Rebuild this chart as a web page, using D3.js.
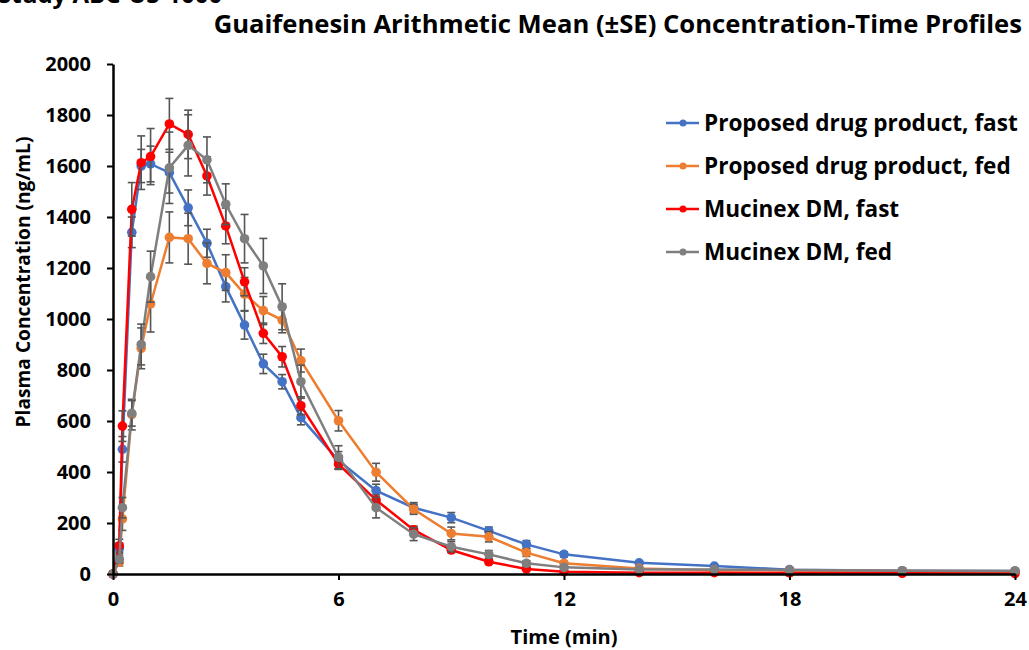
<!DOCTYPE html>
<html>
<head>
<meta charset="utf-8">
<script src="https://cdn.jsdelivr.net/npm/d3@7"></script>
<style>
  body { margin: 0; background: #fff; }
  svg text { font-family: "Open Sans", Lato, sans-serif; font-weight: bold; fill: #000; }
</style>
</head>
<body>
<svg id="chart" width="1029" height="650"></svg>
<script>
// data
var times = [0, 0.167, 0.25, 0.5, 0.75, 1, 1.5, 2, 2.5, 3, 3.5, 4, 4.5, 5, 6, 7, 8, 9, 10, 11, 12, 14, 16, 18, 21, 24];

var propFast = [0, 100, 489, 1340, 1600, 1608, 1574, 1436, 1297, 1127, 976, 824, 754, 613, 445, 327, 260, 221, 169, 116, 77, 44, 31, 17, 13, 12];
var propFed  = [0, 47, 216, 625, 885, 1059, 1320, 1315, 1218, 1182, 1098, 1033, 996, 837, 601, 399, 254, 159, 146, 84, 42, 22, 15, 14, 12, 11];
var mucFast  = [0, 111, 580, 1430, 1613, 1637, 1765, 1724, 1561, 1365, 1146, 944, 852, 660, 431, 290, 173, 94, 48, 20, 9, 5, 5, 4, 3, 2];
var mucFed   = [0, 58, 260, 630, 900, 1166, 1593, 1681, 1624, 1450, 1315, 1208, 1048, 754, 458, 260, 156, 107, 77, 42, 26, 18, 18, 16, 13, 12];

var propFastSE = [0, 20, 50, 60, 65, 70, 80, 70, 55, 60, 55, 38, 28, 28, 35, 25, 20, 20, 15, 15, 10, 6, 5, 4, 3, 3];
var propFedSE  = [0, 15, 45, 60, 80, 110, 100, 100, 80, 70, 65, 55, 50, 45, 40, 35, 20, 25, 20, 15, 8, 5, 4, 3, 3, 3];
var mucFastSE  = [0, 25, 60, 105, 105, 110, 100, 95, 75, 70, 55, 40, 40, 35, 20, 20, 15, 10, 8, 5, 3, 2, 2, 1, 1, 1];
var mucFedSE   = [0, 15, 40, 50, 80, 100, 140, 120, 90, 80, 95, 108, 90, 65, 45, 40, 25, 20, 15, 10, 8, 5, 4, 3, 3, 3];

var seriesNames = ["Proposed drug product, fast", "Proposed drug product, fed", "Mucinex DM, fast", "Mucinex DM, fed"];
var seriesColors = ["#4472C4", "#ED7D31", "#FF0000", "#7F7F7F"];
var xTicks = [0, 6, 12, 18, 24];
var yTicks = [0, 200, 400, 600, 800, 1000, 1200, 1400, 1600, 1800, 2000];

var series = [
  {name: seriesNames[0], color: seriesColors[0], values: propFast, se: propFastSE},
  {name: seriesNames[1], color: seriesColors[1], values: propFed, se: propFedSE},
  {name: seriesNames[2], color: seriesColors[2], values: mucFast, se: mucFastSE},
  {name: seriesNames[3], color: seriesColors[3], values: mucFed, se: mucFedSE}
];

var svg = d3.select("#chart");
var plotLeft = 113, plotRight = 1015, plotTop = 64, plotBottom = 574;

var x = d3.scaleLinear().domain([0, 24]).range([plotLeft, plotRight]);
var y = d3.scaleLinear().domain([0, 2000]).range([plotBottom, plotTop]);

// shrink/grow font so a text spans a given width
function fitWidth(sel, w) {
  var size = parseFloat(sel.style("font-size"));
  var len = sel.node().getComputedTextLength();
  var ns = size * w / len;
  sel.style("font-size", ns + "px");
  return ns;
}

// titles (the first one is cut off at the top edge, as in the source image)
svg.append("text")
  .attr("x", -2).attr("y", 3)
  .style("font-size", "24px")
  .text("Study ABC-US-1000");
var title = svg.append("text")
  .attr("x", 1022).attr("y", 33)
  .attr("text-anchor", "end")
  .style("font-size", "23px")
  .text("Guaifenesin Arithmetic Mean (\u00B1SE) Concentration-Time Profiles");
fitWidth(title, 809);

// series
var line = d3.line().x(function(d){ return x(d[0]); }).y(function(d){ return y(d[1]); });

series.forEach(function(s){
  var pts = times.map(function(t, i){ return [t, s.values[i], s.se[i]]; });
  var g = svg.append("g");
  g.append("path")
    .datum(pts)
    .attr("d", line)
    .attr("fill", "none")
    .attr("stroke", s.color)
    .attr("stroke-width", 2.5);

  //error bars
  var eb = g.selectAll(".eb").data(pts.filter(function(d){ return d[2] > 0; })).enter().append("g");
  eb.append("line")
    .attr("x1", function(d){ return x(d[0]); }).attr("x2", function(d){ return x(d[0]); })
    .attr("y1", function(d){ return y(d[1] - d[2]); }).attr("y2", function(d){ return y(d[1] + d[2]); })
    .attr("stroke", "#555").attr("stroke-width", 1.6);
  eb.append("line")
    .attr("x1", function(d){ return x(d[0]) - 4; }).attr("x2", function(d){ return x(d[0]) + 4; })
    .attr("y1", function(d){ return y(d[1] + d[2]); }).attr("y2", function(d){ return y(d[1] + d[2]); })
    .attr("stroke", "#555").attr("stroke-width", 1.6);
  eb.append("line")
    .attr("x1", function(d){ return x(d[0]) - 4; }).attr("x2", function(d){ return x(d[0]) + 4; })
    .attr("y1", function(d){ return y(d[1] - d[2]); }).attr("y2", function(d){ return y(d[1] - d[2]); })
    .attr("stroke", "#555").attr("stroke-width", 1.6);

  g.selectAll("circle").data(pts).enter().append("circle")
    .attr("cx", function(d){ return x(d[0]); })
    .attr("cy", function(d){ return y(d[1]); })
    .attr("r", 4.8)
    .attr("fill", s.color);
});

// axes
var yAxis = svg.append("g")
  .attr("transform", "translate(" + plotLeft + ",0)")
  .call(d3.axisLeft(y).tickValues(yTicks).tickFormat(d3.format("d")).tickSize(6).tickPadding(16).tickSizeOuter(0));
var xAxis = svg.append("g")
  .attr("transform", "translate(0," + plotBottom + ")")
  .call(d3.axisBottom(x).tickValues(xTicks).tickFormat(d3.format("d")).tickSize(6).tickPadding(12).tickSizeOuter(0));

[xAxis, yAxis].forEach(function(a){
  a.select(".domain").attr("stroke", "#000").attr("stroke-width", 2.5);
  a.selectAll(".tick line").attr("stroke", "#000").attr("stroke-width", 2);
  a.selectAll(".tick text")
    .style("font-size", "20px")
    .style("font-family", "\"Open Sans\", sans-serif")
    .style("font-weight", "bold")
    .attr("fill", "#000");
});

var xTitle = svg.append("text")
  .attr("x", (plotLeft + plotRight) / 2).attr("y", 644)
  .attr("text-anchor", "middle")
  .style("font-size", "18px")
  .text("Time (min)");
fitWidth(xTitle, 107);
var yTitle = svg.append("text")
  .attr("transform", "translate(30,282) rotate(-90)")
  .attr("text-anchor", "middle")
  .style("font-size", "20px")
  .text("Plasma Concentration (ng/mL)");
fitWidth(yTitle, 291);

// legend
var legY = [123, 166, 209, 252];
var legSize = null;
series.forEach(function(s, i){
  var lg = svg.append("g").attr("transform", "translate(666," + legY[i] + ")");
  lg.append("line").attr("x1", 0).attr("x2", 33).attr("stroke", s.color).attr("stroke-width", 2.5);
  lg.append("circle").attr("cx", 17).attr("r", 3.5).attr("fill", s.color);
  var t = lg.append("text").attr("x", 38).attr("dy", "0.36em").style("font-size", "22px").text(s.name);
  if (legSize === null) legSize = fitWidth(t, 314);
  else t.style("font-size", legSize + "px");
});
</script>
</body>
</html>
